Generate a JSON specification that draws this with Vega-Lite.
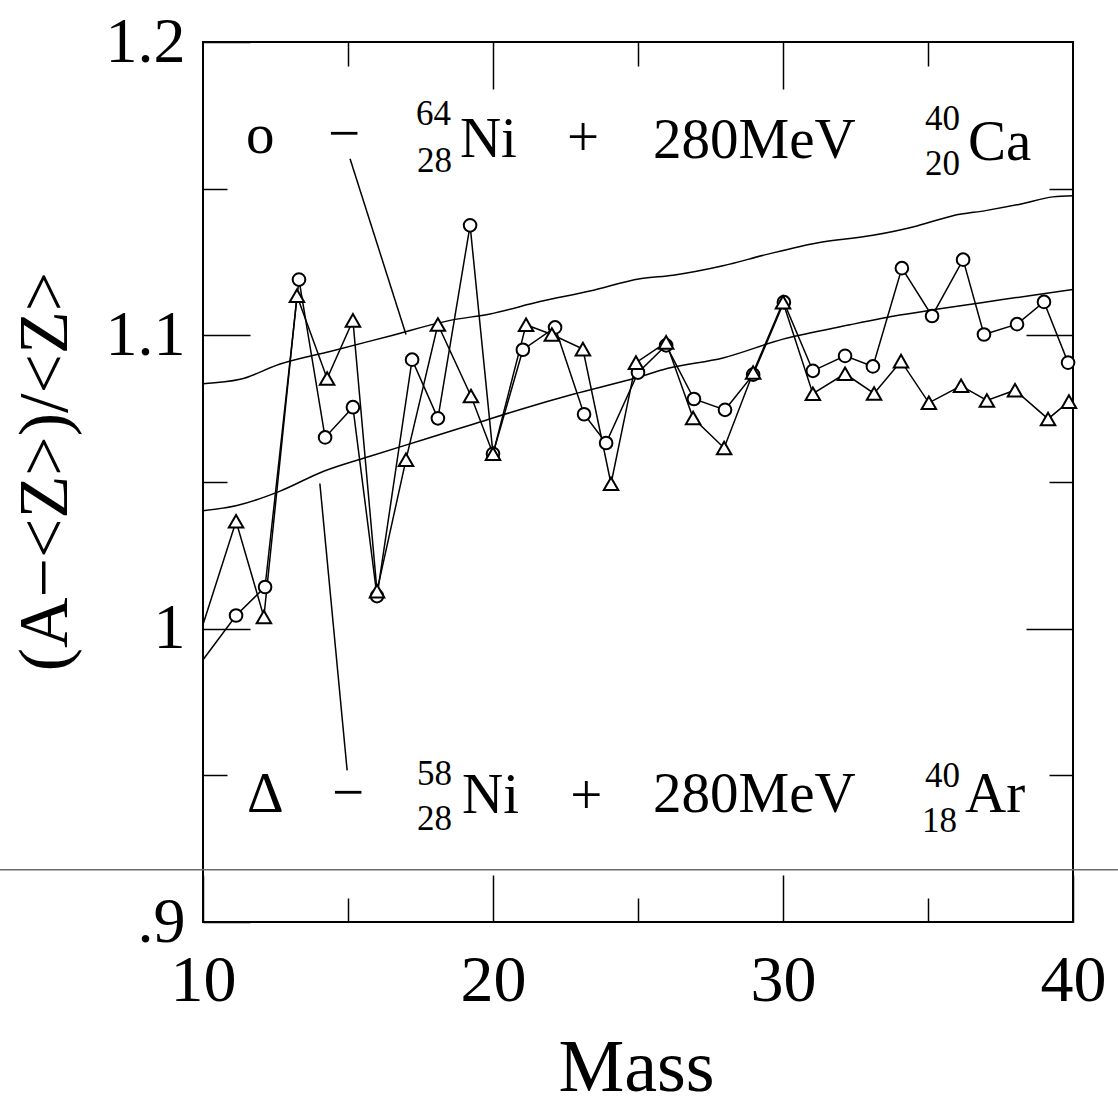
{
  "$schema": "https://vega.github.io/schema/vega-lite/v6.json",
  "width": 870,
  "height": 880,
  "autosize": "none",
  "padding": {"left": 203, "top": 42, "right": 45, "bottom": 187},
  "background": "white",
  "config": {
    "view": {"stroke": "black", "strokeWidth": 2},
    "axis": {
      "grid": false,
      "domain": false,
      "tickColor": "black",
      "tickWidth": 1.5,
      "labelFont": "Liberation Serif",
      "labelFontSize": 64,
      "labelColor": "black",
      "titleFont": "Liberation Serif",
      "titleFontWeight": "normal",
      "titleColor": "black",
      "labelFlush": false,
      "labelOverlap": false,
      "labelBound": false
    }
  },
  "datasets": {
    "curves": [
      {"curve": "upper", "mass": 10, "value": 1.0835},
      {"curve": "upper", "mass": 11.28, "value": 1.0850},
      {"curve": "upper", "mass": 12.66, "value": 1.0902},
      {"curve": "upper", "mass": 14.38, "value": 1.0945},
      {"curve": "upper", "mass": 16.45, "value": 1.0998},
      {"curve": "upper", "mass": 18.52, "value": 1.1051},
      {"curve": "upper", "mass": 19.9, "value": 1.1073},
      {"curve": "upper", "mass": 21.62, "value": 1.1115},
      {"curve": "upper", "mass": 23.34, "value": 1.1151},
      {"curve": "upper", "mass": 25.07, "value": 1.1193},
      {"curve": "upper", "mass": 26.21, "value": 1.1205},
      {"curve": "upper", "mass": 27.93, "value": 1.1237},
      {"curve": "upper", "mass": 29.45, "value": 1.1276},
      {"curve": "upper", "mass": 31.17, "value": 1.1315},
      {"curve": "upper", "mass": 33.1, "value": 1.1341},
      {"curve": "upper", "mass": 34.62, "value": 1.1373},
      {"curve": "upper", "mass": 35.86, "value": 1.1408},
      {"curve": "upper", "mass": 37.03, "value": 1.1426},
      {"curve": "upper", "mass": 38.17, "value": 1.1447},
      {"curve": "upper", "mass": 39.31, "value": 1.1472},
      {"curve": "upper", "mass": 40, "value": 1.1476},
      {"curve": "lower", "mass": 10, "value": 1.0402},
      {"curve": "lower", "mass": 11.17, "value": 1.0420},
      {"curve": "lower", "mass": 12.66, "value": 1.0469},
      {"curve": "lower", "mass": 14.14, "value": 1.0536},
      {"curve": "lower", "mass": 15.76, "value": 1.0588},
      {"curve": "lower", "mass": 17.59, "value": 1.0644},
      {"curve": "lower", "mass": 19.31, "value": 1.0697},
      {"curve": "lower", "mass": 21.03, "value": 1.0750},
      {"curve": "lower", "mass": 22.76, "value": 1.0799},
      {"curve": "lower", "mass": 24.97, "value": 1.0856},
      {"curve": "lower", "mass": 26.0, "value": 1.0887},
      {"curve": "lower", "mass": 27.93, "value": 1.0923},
      {"curve": "lower", "mass": 30.0, "value": 1.0987},
      {"curve": "lower", "mass": 32.31, "value": 1.1036},
      {"curve": "lower", "mass": 34.03, "value": 1.1069},
      {"curve": "lower", "mass": 35.17, "value": 1.1087},
      {"curve": "lower", "mass": 36.9, "value": 1.1112},
      {"curve": "lower", "mass": 38.62, "value": 1.1137},
      {"curve": "lower", "mass": 40, "value": 1.1156}
    ],
    "ca": [
      {"mass": 10, "value": 0.9894},
      {"mass": 11.14, "value": 1.0045},
      {"mass": 12.14, "value": 1.0142},
      {"mass": 13.31, "value": 1.1190},
      {"mass": 14.21, "value": 1.0652},
      {"mass": 15.17, "value": 1.0755},
      {"mass": 16.0, "value": 1.0111},
      {"mass": 17.21, "value": 1.0917},
      {"mass": 18.1, "value": 1.0717},
      {"mass": 19.21, "value": 1.1375},
      {"mass": 20.0, "value": 1.0596},
      {"mass": 21.03, "value": 1.0951},
      {"mass": 22.14, "value": 1.1027},
      {"mass": 23.14, "value": 1.0731},
      {"mass": 23.9, "value": 1.0633},
      {"mass": 25.0, "value": 1.0873},
      {"mass": 25.97, "value": 1.0966},
      {"mass": 26.93, "value": 1.0783},
      {"mass": 28.0, "value": 1.0746},
      {"mass": 28.97, "value": 1.0866},
      {"mass": 30.03, "value": 1.1113},
      {"mass": 31.03, "value": 1.0879},
      {"mass": 32.14, "value": 1.0930},
      {"mass": 33.1, "value": 1.0894},
      {"mass": 34.1, "value": 1.1229},
      {"mass": 35.14, "value": 1.1066},
      {"mass": 36.21, "value": 1.1258},
      {"mass": 36.93, "value": 1.1003},
      {"mass": 38.07, "value": 1.1038},
      {"mass": 39.0, "value": 1.1114},
      {"mass": 39.83, "value": 1.0907}
    ],
    "ar": [
      {"mass": 10, "value": 1.0014},
      {"mass": 11.14, "value": 1.0366},
      {"mass": 12.1, "value": 1.0040},
      {"mass": 13.24, "value": 1.1135},
      {"mass": 14.28, "value": 1.0853},
      {"mass": 15.17, "value": 1.1051},
      {"mass": 16.0, "value": 1.0128},
      {"mass": 17.0, "value": 1.0576},
      {"mass": 18.1, "value": 1.1037},
      {"mass": 19.24, "value": 1.0793},
      {"mass": 20.0, "value": 1.0596},
      {"mass": 21.14, "value": 1.1036},
      {"mass": 22.03, "value": 1.1003},
      {"mass": 23.1, "value": 1.0953},
      {"mass": 24.07, "value": 1.0494},
      {"mass": 24.93, "value": 1.0907},
      {"mass": 25.97, "value": 1.0976},
      {"mass": 26.9, "value": 1.0718},
      {"mass": 27.97, "value": 1.0616},
      {"mass": 28.97, "value": 1.0873},
      {"mass": 30.0, "value": 1.1113},
      {"mass": 31.03, "value": 1.0801},
      {"mass": 32.14, "value": 1.0869},
      {"mass": 33.14, "value": 1.0802},
      {"mass": 34.07, "value": 1.0912},
      {"mass": 35.03, "value": 1.0770},
      {"mass": 36.14, "value": 1.0828},
      {"mass": 37.03, "value": 1.0778},
      {"mass": 38.0, "value": 1.0813},
      {"mass": 39.14, "value": 1.0715},
      {"mass": 39.86, "value": 1.0774}
    ],
    "leaders": [
      {"mass": 15.07, "value": 1.1602, "mass2": 17.0, "value2": 1.1003},
      {"mass": 14.03, "value": 1.0495, "mass2": 14.97, "value2": 0.9517}
    ],
    "scan": [
      {"mass": 3.0, "mass2": 41.55, "value": 0.9178}
    ],
    "labels": [
      {"t": "o", "mass": 11.48, "value": 1.1623},
      {"t": "−", "mass": 14.31, "value": 1.1626},
      {"t": "Ni", "mass": 18.86, "value": 1.1609},
      {"t": "+", "mass": 22.55, "value": 1.1613},
      {"t": "280MeV", "mass": 25.52, "value": 1.1606},
      {"t": "Ca", "mass": 36.38, "value": 1.1599},
      {"t": "Δ", "mass": 11.52, "value": 0.9376},
      {"t": "−", "mass": 14.45, "value": 0.9379},
      {"t": "Ni", "mass": 18.93, "value": 0.9373},
      {"t": "+", "mass": 22.66, "value": 0.9369},
      {"t": "280MeV", "mass": 25.52, "value": 0.9376},
      {"t": "Ar", "mass": 36.28, "value": 0.9376}
    ],
    "scripts": [
      {"t": "64", "mass": 18.55, "value": 1.1718},
      {"t": "28", "mass": 18.59, "value": 1.1558},
      {"t": "40", "mass": 36.1, "value": 1.1701},
      {"t": "20", "mass": 36.1, "value": 1.1548},
      {"t": "58", "mass": 18.59, "value": 0.9468},
      {"t": "28", "mass": 18.59, "value": 0.9315},
      {"t": "40", "mass": 36.1, "value": 0.9461},
      {"t": "18", "mass": 36.0, "value": 0.9308}
    ]
  },
  "layer": [
    {
      "data": {"name": "curves"},
      "mark": {"type": "line", "color": "black", "strokeWidth": 1.5, "interpolate": "monotone"},
      "encoding": {
        "x": {
          "field": "mass", "type": "quantitative",
          "scale": {"domain": [10, 40], "nice": false, "zero": false},
          "axis": {
            "orient": "bottom", "values": [10, 20, 30, 40], "tickSize": -47,
            "labelPadding": 73, "labelFontSize": 66,
            "title": "Mass", "titleFontSize": 74, "titleX": 433, "titleY": 168,
            "titleAlign": "center", "titleBaseline": "alphabetic"
          }
        },
        "y": {
          "field": "value", "type": "quantitative",
          "scale": {"domain": [0.9, 1.2], "nice": false, "zero": false},
          "axis": {
            "orient": "left", "values": [0.9, 1.0, 1.1, 1.2], "tickSize": -47,
            "labelPadding": 65, "labelFontSize": 64, "labelBaseline": "middle",
            "labelExpr": "datum.value == 1 ? '1' : (datum.value < 0.95 ? '.9' : format(datum.value, '.1f'))",
            "title": "(A−<Z>)/<Z>", "titleFontSize": 70, "titleAngle": 270,
            "titleX": -158, "titleY": 429, "titleAlign": "center", "titleBaseline": "middle"
          }
        },
        "detail": {"field": "curve", "type": "nominal"}
      }
    },
    {
      "data": {"name": "leaders"},
      "mark": {"type": "rule", "color": "black", "strokeWidth": 1.5},
      "encoding": {
        "x": {"field": "mass", "type": "quantitative",
          "axis": {"orient": "bottom", "values": [15, 25, 35], "tickSize": -24, "labels": false, "title": null}},
        "x2": {"field": "mass2"},
        "y": {"field": "value", "type": "quantitative",
          "axis": {"orient": "left", "values": [0.95, 1.05, 1.15], "tickSize": -24, "labels": false, "title": null}},
        "y2": {"field": "value2"}
      }
    },
    {
      "data": {"name": "scan"},
      "mark": {"type": "rule", "color": "#6a6a6a", "strokeWidth": 1.5, "clip": false},
      "encoding": {
        "x": {"field": "mass", "type": "quantitative",
          "axis": {"orient": "top", "values": [20, 30], "tickSize": -47, "labels": false, "title": null}},
        "x2": {"field": "mass2"},
        "y": {"field": "value", "type": "quantitative",
          "axis": {"orient": "right", "values": [1.0, 1.1], "tickSize": -47, "labels": false, "title": null}}
      }
    },
    {
      "data": {"name": "ca"},
      "mark": {"type": "line", "color": "black", "strokeWidth": 1.5},
      "encoding": {
        "x": {"field": "mass", "type": "quantitative",
          "axis": {"orient": "top", "values": [15, 25, 35], "tickSize": -24, "labels": false, "title": null}},
        "y": {"field": "value", "type": "quantitative",
          "axis": {"orient": "right", "values": [0.95, 1.05, 1.15], "tickSize": -24, "labels": false, "title": null}}
      }
    },
    {
      "data": {"name": "ar"},
      "mark": {"type": "line", "color": "black", "strokeWidth": 1.5},
      "encoding": {
        "x": {"field": "mass", "type": "quantitative", "axis": null},
        "y": {"field": "value", "type": "quantitative", "axis": null}
      }
    },
    {
      "data": {"name": "ca"},
      "transform": [{"filter": "datum.mass > 10"}],
      "mark": {"type": "point", "shape": "circle", "filled": true, "fill": "white", "stroke": "black", "strokeWidth": 2, "size": 160, "opacity": 1},
      "encoding": {
        "x": {"field": "mass", "type": "quantitative", "axis": null},
        "y": {"field": "value", "type": "quantitative", "axis": null}
      }
    },
    {
      "data": {"name": "ar"},
      "transform": [{"filter": "datum.mass > 10"}],
      "mark": {"type": "point", "shape": "triangle-up", "filled": true, "fill": "white", "stroke": "black", "strokeWidth": 2, "size": 210, "opacity": 1},
      "encoding": {
        "x": {"field": "mass", "type": "quantitative", "axis": null},
        "y": {"field": "value", "type": "quantitative", "axis": null}
      }
    },
    {
      "data": {"name": "labels"},
      "mark": {"type": "text", "align": "left", "baseline": "alphabetic", "font": "Liberation Serif", "fontSize": 57, "color": "black"},
      "encoding": {
        "x": {"field": "mass", "type": "quantitative", "axis": null},
        "y": {"field": "value", "type": "quantitative", "axis": null},
        "text": {"field": "t"}
      }
    },
    {
      "data": {"name": "scripts"},
      "mark": {"type": "text", "align": "right", "baseline": "alphabetic", "font": "Liberation Serif", "fontSize": 35, "color": "black"},
      "encoding": {
        "x": {"field": "mass", "type": "quantitative", "axis": null},
        "y": {"field": "value", "type": "quantitative", "axis": null},
        "text": {"field": "t"}
      }
    }
  ],
  "resolve": {"axis": {"x": "independent", "y": "independent"}}
}
